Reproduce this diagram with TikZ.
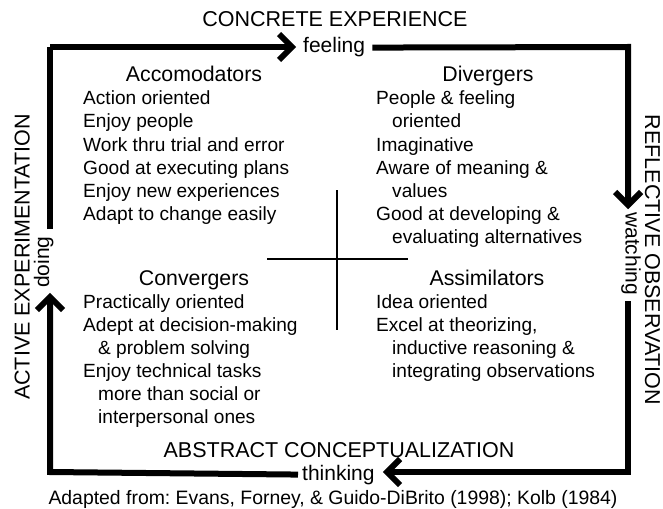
\documentclass[tikz,border=0pt]{standalone}
\usepackage{fontspec}
\setmainfont{Liberation Sans}
\frenchspacing
\begin{document}
\begin{tikzpicture}[x=1pt,y=-1pt,
  lbl/.style={inner sep=0pt, font=\fontsize{21.5}{24}\selectfont},
  sub/.style={inner sep=0pt, font=\fontsize{21}{24}\selectfont},
  head/.style={inner sep=0pt, anchor=base, font=\fontsize{21.3}{24}\selectfont},
  item/.style={inner sep=0pt, anchor=base west, font=\fontsize{19.1}{23}\selectfont},
  cyc/.style={line width=6pt, line join=miter},
  chev/.style={line width=6pt, line join=miter, miter limit=10},
  crossln/.style={line width=1.6pt}]
\useasboundingbox (0,0) rectangle (663,508);

% corners and chevron vertices
\coordinate (tl) at (50,47);
\coordinate (tr) at (628,47);
\coordinate (br) at (628,472);
\coordinate (bl) at (50,472);
\coordinate (vT) at (292,47);
\coordinate (vR) at (628,205);
\coordinate (vB) at (387,472);
\coordinate (vL) at (50,297);

% axis labels
\node[lbl, anchor=base] (ce) at (335,27) {CONCRETE EXPERIENCE};
\node[sub, anchor=base west] (feel) at (303,53) {feeling};
\node[lbl, anchor=base, rotate=-90] (ro) at (645,260) {REFLECTIVE OBSERVATION};
\node[sub, anchor=base west, rotate=-90] (watch) at (625.5,212) {watching};
\node[lbl, anchor=base] (ac) at (339,457) {ABSTRACT CONCEPTUALIZATION};
\node[sub, anchor=base west] (think) at (302,480) {thinking};
\node[lbl, anchor=base, rotate=90] (ae) at (29.5,257) {ACTIVE EXPERIMENTATION};
\node[sub, anchor=base west, rotate=90] (doing) at (49,288) {doing};

% cycle
\draw[cyc] (tl) -- (vT);
\draw[chev] ([shift={(-13,-13)}]vT) -- (vT) -- ([shift={(-13,13)}]vT);
\draw[cyc] ([xshift=7pt]feel.east) -- (tr) -- (vR);
\draw[chev] ([shift={(-13,-13)}]vR) -- (vR) -- ([shift={(13,-13)}]vR);
\draw[cyc] ([yshift=-6pt]tr |- watch.east) -- (br) -- (vB);
\draw[chev] ([shift={(13,-13)}]vB) -- (vB) -- ([shift={(13,13)}]vB);
\draw[cyc] ([xshift=-4pt]think.west) -- (bl) -- (vL);
\draw[chev] ([shift={(-13,13)}]vL) -- (vL) -- ([shift={(13,13)}]vL);
\draw[cyc] ([yshift=7pt]tl |- doing.east) -- (tl);

% central cross
\coordinate (hl) at (267,259);
\coordinate (hr) at (408,259);
\coordinate (vt) at (337,190);
\coordinate (vb) at (337,330);
\draw[crossln] (hl) -- (hr);
\draw[crossln] (vt) -- (vb);

% quadrants
\node[head] (acc) at (194,82) {Accomodators};
\node[item] (a1) at (83,105) {Action oriented};
\node[item] (a2) at (83,128) {Enjoy people};
\node[item] (a3) at (83,151) {Work thru trial and error};
\node[item] (a4) at (83,174) {Good at executing plans};
\node[item] (a5) at (83,197) {Enjoy new experiences};
\node[item] (a6) at (83,220) {Adapt to change easily};

\node[head] (div) at (488,82) {Divergers};
\node[item] (d1) at (376,105) {People \& feeling};
\node[item] (d2) at (392,128) {oriented};
\node[item] (d3) at (376,151) {Imaginative};
\node[item] (d4) at (376,174) {Aware of meaning \&};
\node[item] (d5) at (392,197) {values};
\node[item] (d6) at (376,220) {Good at developing \&};
\node[item] (d7) at (392,243) {evaluating alternatives};

\node[head] (con) at (194,285) {Convergers};
\node[item] (c1) at (83,308) {Practically oriented};
\node[item] (c2) at (83,331) {Adept at decision-making};
\node[item] (c3) at (98,354) {\& problem solving};
\node[item] (c4) at (83,377) {Enjoy technical tasks};
\node[item] (c5) at (98,400) {more than social or};
\node[item] (c6) at (98,423) {interpersonal ones};

\node[head] (ass) at (487,285) {Assimilators};
\node[item] (s1) at (376,308) {Idea oriented};
\node[item] (s2) at (376,331) {Excel at theorizing,};
\node[item] (s3) at (392,354) {inductive reasoning \&};
\node[item] (s4) at (392,377) {integrating observations};

% caption
\node[item, anchor=base, font=\fontsize{19.4}{23}\selectfont] (cap) at (333,504) {Adapted from: Evans, Forney, \& Guido-DiBrito (1998); Kolb (1984)};
\end{tikzpicture}
\end{document}
